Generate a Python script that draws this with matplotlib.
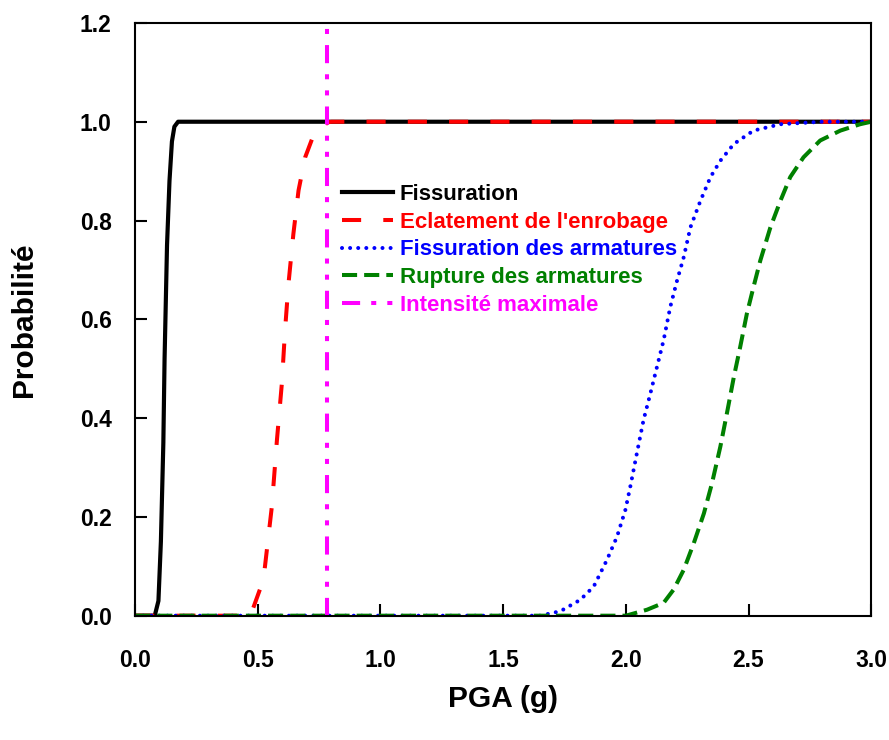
import matplotlib
matplotlib.use("Agg")
import matplotlib.pyplot as plt
from matplotlib.ticker import FormatStrFormatter

plt.rcParams["font.family"] = ["Liberation Sans", "DejaVu Sans"]
plt.rcParams["font.weight"] = "bold"

# values
pga_fiss = [0.0, 0.08, 0.095, 0.105, 0.115, 0.12, 0.13, 0.14, 0.15, 0.16, 0.175, 0.19, 3.0]
p_fiss = [0.0, 0.0, 0.03, 0.15, 0.35, 0.52, 0.75, 0.88, 0.96, 0.99, 1.0, 1.0, 1.0]

pga_ecl = [0.0, 0.47, 0.523, 0.557, 0.578, 0.598, 0.611, 0.625, 0.645, 0.666,
           0.693, 0.734, 0.788, 0.8, 3.0]
p_ecl = [0.0, 0.0, 0.073, 0.22, 0.356, 0.47, 0.578, 0.672, 0.773, 0.861,
         0.928, 0.982, 0.999, 1.0, 1.0]

pga_farm = [0.0, 1.65, 1.733, 1.814, 1.869, 1.923, 1.964, 1.998, 2.018, 2.045, 2.072,
            2.1, 2.127, 2.154, 2.181, 2.209, 2.236, 2.263, 2.304, 2.345, 2.385,
            2.44, 2.52, 2.63, 2.8, 3.0]
p_farm = [0.0, 0.0, 0.009, 0.032, 0.059, 0.113, 0.16, 0.214, 0.261, 0.329, 0.396,
          0.45, 0.504, 0.558, 0.625, 0.679, 0.726, 0.786, 0.84, 0.888, 0.921,
          0.955, 0.982, 0.995, 1.0, 1.0]

pga_rupt = [0.0, 2.0, 2.086, 2.154, 2.195, 2.236, 2.277, 2.318, 2.351, 2.385, 2.412,
            2.44, 2.466, 2.493, 2.52, 2.548, 2.589, 2.63, 2.67, 2.724, 2.792,
            2.874, 2.955, 3.0]
p_rupt = [0.0, 0.0, 0.012, 0.026, 0.053, 0.093, 0.147, 0.207, 0.268, 0.342, 0.41,
          0.483, 0.544, 0.611, 0.665, 0.719, 0.786, 0.84, 0.888, 0.928, 0.962,
          0.982, 0.995, 1.0]

pga_max = 0.78

fig = plt.figure(figsize=(8.89, 7.40), dpi=100)
ax = fig.add_axes([0.152, 0.168, 0.828, 0.801])

ax.plot(pga_fiss, p_fiss, color="black", lw=3.0, label="Fissuration")
ax.plot(pga_ecl, p_ecl, color="red", lw=2.9, dashes=(4.75, 5.5), label="Eclatement de l'enrobage")
ax.plot(pga_farm, p_farm, color="blue", lw=2.9, dashes=(0.01, 2.0),
        dash_capstyle="round", label="Fissuration des armatures")
ax.plot(pga_rupt, p_rupt, color="green", lw=2.9, dashes=(3.75, 1.75), label="Rupture des armatures")
ax.plot([pga_max, pga_max], [0, 1.2], color="magenta", lw=2.9,
        dashes=(4.5, 2.75, 1.25, 2.75, 1.25, 2.75), label="Intensité maximale")

ax.set_xlim(0, 3.0)
ax.set_ylim(0, 1.2)
ax.set_xticks([0.0, 0.5, 1.0, 1.5, 2.0, 2.5, 3.0])
ax.set_yticks([0.0, 0.2, 0.4, 0.6, 0.8, 1.0, 1.2])
ax.xaxis.set_major_formatter(FormatStrFormatter("%.1f"))
ax.yaxis.set_major_formatter(FormatStrFormatter("%.1f"))
ax.tick_params(direction="in", length=8.5, width=1.5, labelsize=16.5)
ax.tick_params(axis="x", pad=24)
ax.tick_params(axis="y", pad=17)
for s in ax.spines.values():
    s.set_linewidth(1.5)

ax.set_xlabel("PGA (g)", fontsize=21.5, fontweight="bold", labelpad=9)
ax.set_ylabel("Probabilité", fontsize=21.5, fontweight="bold", labelpad=30)

ax.legend(loc="upper left", bbox_to_anchor=(0.281, 0.728), frameon=False,
          labelcolor="linecolor", prop={"weight": "bold", "size": 16},
          handlelength=2.3, handletextpad=0.3, labelspacing=0.3,
          borderaxespad=0, borderpad=0)

fig.savefig("out.png", dpi=100)
